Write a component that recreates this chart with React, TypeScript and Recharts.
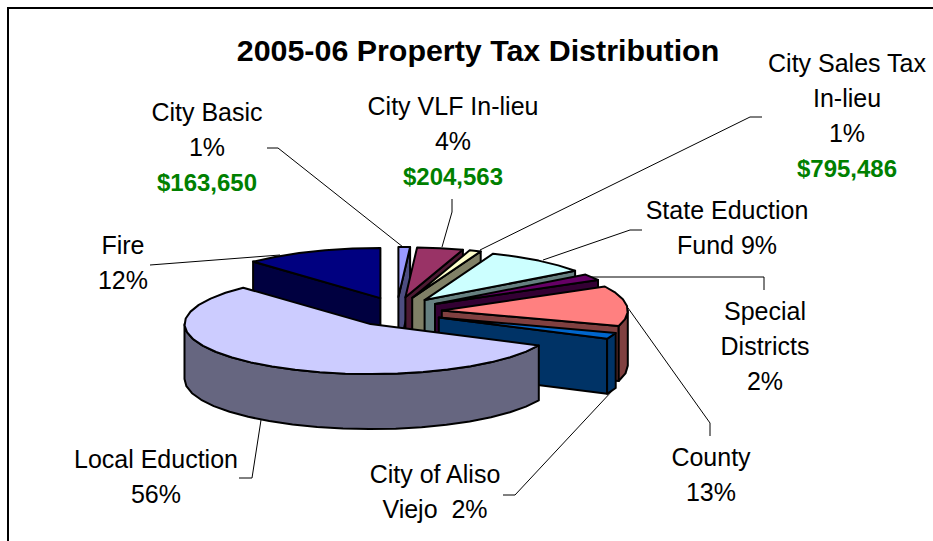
import { PieChart, Pie, Cell } from "recharts";

// Slice order starts at Fire so the painter's order leaves Local Eduction in front.
const names = ["Fire", "City Basic", "City VLF In-lieu", "City Sales Tax In-lieu", "State Eduction Fund", "Special Districts", "County", "City of Aliso Viejo", "Local Eduction"];
const percents = [12, 1, 4, 1, 9, 2, 13, 2, 56];
const topColors = ["#000080", "#9999FF", "#993366", "#FFFFCC", "#CCFFFF", "#660066", "#FF8080", "#0066CC", "#CCCCFF"];
const sideColors = ["#000040", "#4D4D80", "#4D1A33", "#808066", "#668080", "#330033", "#804040", "#003366", "#666680"];

const titleText = "2005-06 Property Tax Distribution";

// text blocks: centre x, first baseline, lines ("$" lines are the green dollar amounts)
const labelBlocks: { x: number; y: number; lines: string[] }[] = [
  { x: 207, y: 121, lines: ["City Basic", "1%", "$163,650"] },
  { x: 453, y: 115, lines: ["City VLF In-lieu", "4%", "$204,563"] },
  { x: 847, y: 72, lines: ["City Sales Tax", "In-lieu", "1%", "$795,486"] },
  { x: 727, y: 219, lines: ["State Eduction", "Fund 9%"] },
  { x: 765, y: 320, lines: ["Special", "Districts", "2%"] },
  { x: 711, y: 466, lines: ["County", "13%"] },
  { x: 435, y: 483, lines: ["City of Aliso", "Viejo  2%"] },
  { x: 156, y: 468, lines: ["Local Eduction", "56%"] },
  { x: 123, y: 254, lines: ["Fire", "12%"] },
];

const leaders = [
  "267,148 278,148 403,247",
  "452,199 452,212 442,247",
  "762,117 750,117 480,250",
  "642,230 630,230 543,260",
  "590,277 764,277 764,290",
  "628,308 710,423 710,436",
  "613,390 515,495 503,495",
  "261,420 252,478 239,478",
  "150,265 280,255",
];

const TILT = 50 / 186;
const DEPTH = 55;
const EXPLODE_X = 45;
const EXPLODE_Y = 15;
const rad = (d: number) => (d * Math.PI) / 180;

function Slice3D(props: any) {
  const { cx, cy, outerRadius, startAngle, endAngle, index } = props;
  // degrees clockwise from 12 o'clock
  const a0 = 90 - startAngle;
  const a1 = 90 - endAngle;
  const mid = (a0 + a1) / 2;
  const ax = cx + EXPLODE_X * Math.sin(rad(mid));
  const ay = cy - EXPLODE_Y * Math.cos(rad(mid));
  const ry = outerRadius * TILT;
  const pt = (a: number, dy = 0) => [ax + outerRadius * Math.sin(rad(a)), ay - ry * Math.cos(rad(a)) + dy];
  const arc = (from: number, to: number, dy = 0) => {
    const out: number[][] = [];
    const n = Math.max(1, Math.round((to - from) / 8));
    for (let i = 0; i <= n; i++) out.push(pt(from + ((to - from) * i) / n, dy));
    return out;
  };
  const d = (pts: number[][]) => "M" + pts.map((p) => `${p[0].toFixed(1)},${p[1].toFixed(1)}`).join("L") + "Z";
  const apex = [ax, ay];
  const apexLow = [ax, ay + DEPTH];
  const side = sideColors[index];
  const common = { stroke: "#000", strokeWidth: 2, strokeLinejoin: "round" as const };

  const walls: number[][][] = [];
  if (Math.sin(rad(a0)) < -0.001) walls.push([apex, pt(a0), pt(a0, DEPTH), apexLow]);
  if (Math.sin(rad(a1)) > 0.001) walls.push([apex, pt(a1), pt(a1, DEPTH), apexLow]);
  const from = Math.max(a0, 90);
  const to = Math.min(a1, 270);
  if (to > from) walls.push([...arc(from, to), ...arc(from, to, DEPTH).reverse()]);

  return (
    <g>
      {walls.map((w, i) => (
        <path key={i} d={d(w)} fill={side} {...common} />
      ))}
      <path d={d([apex, ...arc(a0, a1)])} fill={topColors[index]} {...common} />
    </g>
  );
}

const pieData = names.map((name, i) => ({ name, value: percents[i] }));

export default function App() {
  return (
    <div style={{ position: "fixed", left: 0, top: 0, width: 933, height: 541, overflow: "hidden", background: "#fff" }}>
      <PieChart width={933} height={541} margin={{ top: 0, right: 0, bottom: 0, left: 0 }}>
        <rect x={8} y={8} width={1000} height={1000} fill="none" stroke="#000" strokeWidth={2} />
        <Pie
          data={pieData}
          dataKey="value"
          nameKey="name"
          cx={397}
          cy={312}
          outerRadius={186}
          startAngle={133.2}
          endAngle={-226.8}
          stroke="none"
          shape={Slice3D}
          isAnimationActive={false}
          rootTabIndex={-1}
        >
          {pieData.map((e, i) => (
            <Cell key={e.name} fill={topColors[i]} />
          ))}
        </Pie>
        {leaders.map((p) => (
          <polyline key={p} points={p} fill="none" stroke="#000" strokeWidth={1} />
        ))}
        <text x={478} y={61} textAnchor="middle" fontFamily="Liberation Sans" fontWeight="bold" fontSize={30.4}>
          {titleText}
        </text>
        {labelBlocks.map((b) =>
          b.lines.map((line, i) => (
            <text
              key={b.x + line}
              x={b.x}
              y={b.y + i * 35}
              textAnchor="middle"
              fontFamily="Liberation Sans"
              fontSize={line.startsWith("$") ? 24 : 25}
              fontWeight={line.startsWith("$") ? "bold" : "normal"}
              fill={line.startsWith("$") ? "#008000" : "#000"}
              xmlSpace="preserve"
            >
              {line}
            </text>
          ))
        )}
      </PieChart>
    </div>
  );
}
